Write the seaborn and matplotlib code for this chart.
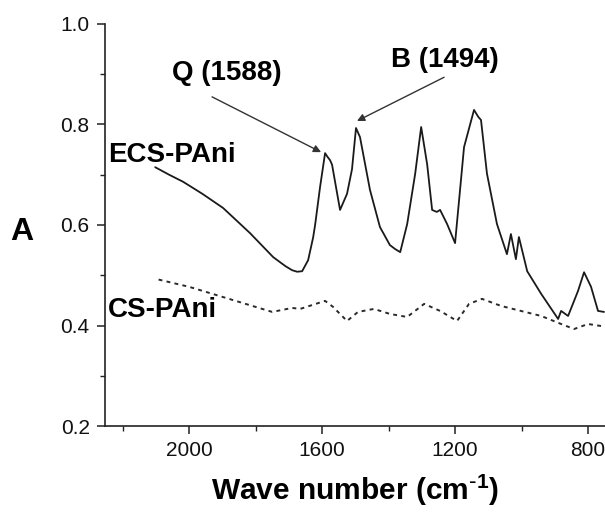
import matplotlib
matplotlib.use('Agg')
import matplotlib.pyplot as plt
from matplotlib.ticker import MultipleLocator
import seaborn as sns
import pandas as pd

# ECS-PAni spectrum (wave number in cm-1, absorbance)
ecs_wn = [2102, 2060, 2018, 1960, 1898, 1817, 1747, 1710, 1690, 1675, 1660, 1642, 1627,
          1621, 1606, 1591, 1583, 1576, 1570, 1546, 1525, 1510, 1498, 1486, 1456,
          1426, 1396, 1380, 1365, 1344, 1320, 1302, 1284, 1269, 1255, 1245, 1224,
          1200, 1173, 1143, 1130, 1122, 1104, 1074, 1044, 1032, 1017, 1008, 983,
          941, 890, 881, 860, 830, 812, 791, 770, 752]
ecs_abs = [0.715, 0.700, 0.686, 0.662, 0.634, 0.584, 0.536, 0.518, 0.510, 0.507, 0.508,
           0.530, 0.575, 0.600, 0.676, 0.743, 0.735, 0.729, 0.720, 0.630, 0.662, 0.711,
           0.793, 0.775, 0.670, 0.596, 0.560, 0.552, 0.546, 0.602, 0.702, 0.795, 0.721,
           0.630, 0.626, 0.630, 0.602, 0.564, 0.755, 0.829, 0.815, 0.809, 0.702, 0.602,
           0.542, 0.582, 0.532, 0.576, 0.508, 0.463, 0.413, 0.429, 0.419, 0.469, 0.506,
           0.477, 0.429, 0.427]

# CS-PAni spectrum
cs_wn = [2102, 2000, 1930, 1840, 1750, 1690, 1666, 1591, 1567, 1525, 1492,
         1444, 1396, 1344, 1293, 1245, 1194, 1158, 1119, 1062, 1002, 941,
         881, 842, 800, 761]
cs_abs = [0.493, 0.477, 0.463, 0.445, 0.427, 0.435, 0.433, 0.449, 0.437, 0.409, 0.427,
          0.433, 0.423, 0.417, 0.443, 0.429, 0.409, 0.443, 0.453, 0.439, 0.429, 0.419,
          0.403, 0.393, 0.403, 0.399]

x_ticks = [2000, 1600, 1200, 800]
y_ticks = [0.2, 0.4, 0.6, 0.8, 1.0]

sns.set_theme(style='ticks')
plt.rcParams['font.family'] = ['Liberation Sans', 'DejaVu Sans']
plt.rcParams['mathtext.default'] = 'regular'

ecs = pd.DataFrame({'wn': ecs_wn, 'A': ecs_abs})
cs = pd.DataFrame({'wn': cs_wn, 'A': cs_abs})

fig = plt.figure(figsize=(6.05, 5.15), dpi=100)
ax = fig.add_axes([105 / 605, 89 / 515, 500 / 605, 402 / 515])

sns.lineplot(data=ecs, x='wn', y='A', ax=ax, color='#1a1a1a', lw=1.3, estimator=None)
sns.lineplot(data=cs, x='wn', y='A', ax=ax, color='#2a2a2a', lw=1.4,
             estimator=None, dashes=False, linestyle=(0, (2, 2.2)))

ax.set_xlim(2253, 749)
ax.set_ylim(0.2, 1.0)
ax.set_xticks(x_ticks)
ax.set_yticks(y_ticks)
ax.set_yticklabels([f'{v:.1f}' for v in y_ticks])
ax.xaxis.set_minor_locator(MultipleLocator(200))
ax.yaxis.set_minor_locator(MultipleLocator(0.1))
ax.tick_params(which='major', direction='out', length=6, width=1.1, labelsize=15,
               color='#222222', labelcolor='#111111', pad=5)
ax.tick_params(which='minor', direction='out', length=3.5, width=1.0, color='#222222')
sns.despine(ax=ax)
for s in ['left', 'bottom']:
    ax.spines[s].set_linewidth(1.2)
    ax.spines[s].set_color('#222222')

ax.set_xlabel(r'Wave number (cm$^{\text{-}1}$)', fontsize=21.5, labelpad=9,
              color='#000000', fontweight='bold')
ax.set_ylabel('A', fontsize=23, rotation=0, color='#000000', va='center', ha='center',
              fontweight='bold')
ax.yaxis.set_label_coords(-0.166, 0.483)

# series labels
lbl = dict(fontsize=20, color='#000000', fontweight='bold')
ax.text(2244, 0.739, 'ECS-PAni', ha='left', va='center', **lbl)
ax.text(2244, 0.431, 'CS-PAni', ha='left', va='center', **lbl)

# peak annotations
ax.text(1886, 0.902, 'Q (1588)', ha='center', va='center', **lbl)
ax.text(1230, 0.928, 'B (1494)', ha='center', va='center', **lbl)
arrow = dict(arrowstyle='-|>', lw=1.0, color='#333333', mutation_scale=11, shrinkA=0, shrinkB=0)
ax.annotate('', xy=(1603, 0.745), xytext=(1931, 0.855), arrowprops=arrow)
ax.annotate('', xy=(1495, 0.807), xytext=(1233, 0.894), arrowprops=arrow)

fig.savefig('out.png', dpi=100)
